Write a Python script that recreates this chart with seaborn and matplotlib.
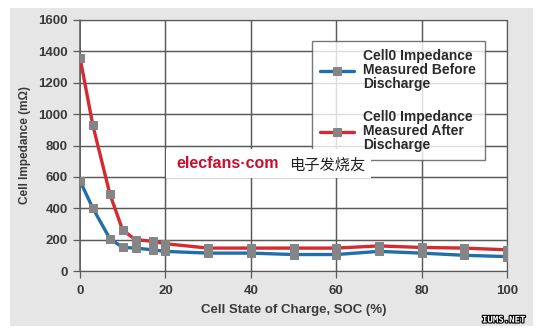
import matplotlib
matplotlib.use("Agg")
import matplotlib.pyplot as plt
import matplotlib.patches as mpatches
import matplotlib.patheffects as pe
import pandas as pd
import seaborn as sns

# State of charge (%) at each measurement
soc = [0, 3, 7, 10, 13, 17, 20, 30, 40, 50, 60, 70, 80, 90, 100]
# Cell impedance (mOhm)
before_discharge = [575, 400, 206, 150, 146, 135, 125, 114, 114, 105, 105, 125, 114, 100, 92]
after_discharge = [1360, 930, 490, 260, 200, 189, 174, 146, 146, 146, 146, 160, 150, 146, 135]

series_names = [
    "Cell0 Impedance\nMeasured Before\nDischarge",
    "Cell0 Impedance\nMeasured After\nDischarge",
]
x_ticks = [0, 20, 40, 60, 80, 100]
y_ticks = [0, 200, 400, 600, 800, 1000, 1200, 1400, 1600]

df = pd.concat([
    pd.DataFrame({"soc": soc, "imp": before_discharge, "series": series_names[0]}),
    pd.DataFrame({"soc": soc, "imp": after_discharge, "series": series_names[1]}),
])

sns.set_theme(style="white")
plt.rcParams["font.family"] = ["Liberation Sans", "DejaVu Sans"]

GRID = "#5a5a5a"
AX_RECT = [80 / 539, 1 - 271 / 333, 427 / 539, 251 / 333]

fig = plt.figure(figsize=(5.39, 3.33), dpi=100)
# grey panel behind the chart
fig.add_artist(mpatches.Rectangle((10 / 539, 1 - 326 / 333), 523 / 539, 318 / 333,
                                  transform=fig.transFigure, facecolor="#e6e6e6",
                                  edgecolor="none", zorder=-10))

# white plotting area carrying the grid
bg = fig.add_axes(AX_RECT, zorder=0)
bg.set_facecolor("white")
bg.set_xlim(0, 100)
bg.set_ylim(0, 1600)
bg.set_xticks([])
bg.set_yticks([])
for s in bg.spines.values():
    s.set_visible(False)
for yv in y_ticks:
    bg.axhline(yv, color=GRID, linewidth=0.9, clip_on=False)
for xv in x_ticks:
    bg.axvline(xv, color=GRID, linewidth=1.1 if xv == 0 else 0.9, clip_on=False)

# data axes on top, transparent
ax = fig.add_axes(AX_RECT, zorder=1)
ax.set_facecolor("none")
ax.patch.set_alpha(0)

palette = {series_names[0]: "#1f6fad", series_names[1]: "#d42a30"}
sns.lineplot(data=df, x="soc", y="imp", hue="series", palette=palette, ax=ax,
             marker="s", markersize=6, markerfacecolor="#858585",
             markeredgecolor="#858585", linewidth=2.4, sort=False, zorder=4,
             errorbar=None)

for yv in y_ticks:
    ax.axhline(yv, color=GRID, linewidth=0.9, zorder=2.5)
for xv in x_ticks:
    ax.axvline(xv, color=GRID, linewidth=1.1 if xv == 0 else 0.9, zorder=2.5)

ax.set_xlim(0, 100)
ax.set_ylim(0, 1600)
ax.set_xticks(x_ticks)
ax.set_yticks(y_ticks)
for s in ax.spines.values():
    s.set_visible(False)
ax.tick_params(axis="y", left=True, length=5, color=GRID, width=0.9, pad=4)
ax.tick_params(axis="x", bottom=True, length=5, color=GRID, width=0.9, pad=5)
for lbl in ax.get_xticklabels() + ax.get_yticklabels():
    lbl.set_fontweight("bold")
    lbl.set_fontsize(9.5)
    lbl.set_color("#3a3a3a")

ax.set_xlabel("Cell State of Charge, SOC (%)", fontsize=9.5, fontweight="bold",
              color="#3a3a3a", labelpad=5)
ax.set_ylabel("Cell Impedance (m\u03a9)", fontsize=8.5, fontweight="bold",
              color="#3a3a3a", labelpad=5)

leg = ax.legend(title=None, loc="upper left", bbox_to_anchor=(232 / 427, 1 - 21 / 251),
                frameon=True, fancybox=False, fontsize=10, labelspacing=1.35,
                handlelength=2.4, handletextpad=0.7, borderpad=0.6, borderaxespad=0)
leg.get_frame().set_edgecolor("#555555")
leg.get_frame().set_linewidth(1.0)
leg.get_frame().set_facecolor("white")
for t in leg.get_texts():
    t.set_fontweight("bold")
    t.set_color("#2a2a2a")
    t.set_linespacing(1.0)

# site watermark
fig.add_artist(mpatches.Rectangle((166 / 539, 1 - 178 / 333), 205 / 539, 29 / 333,
                                  transform=fig.transFigure, facecolor="white",
                                  edgecolor="none", zorder=5))
fig.text(176 / 539, 1 - 164 / 333, "elecfans\u00b7com", fontsize=11.5, color="#c8102e",
         fontweight="semibold", va="center", ha="left", zorder=6)
fig.text(289 / 539, 1 - 165 / 333, "电子发烧友", fontsize=11, color="#222222",
         va="center", ha="left", style="italic", zorder=6,
         family=["Noto Sans CJK SC", "DejaVu Sans"])
fig.text(525 / 539, 1 - 320 / 333, "IUMS.NET", fontsize=6.5, color="white",
         fontweight="bold", va="center", ha="right", family=["DejaVu Sans Mono"],
         path_effects=[pe.withStroke(linewidth=1.6, foreground="black")])

fig.savefig("out.png", dpi=100)
